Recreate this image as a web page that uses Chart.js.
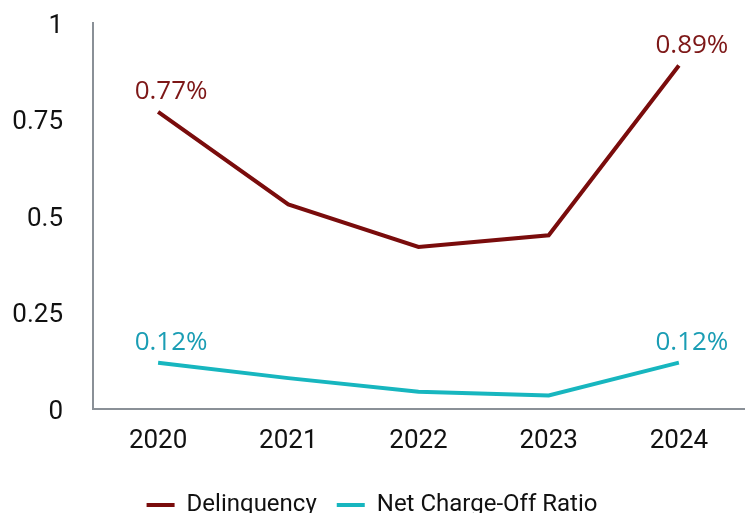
<!DOCTYPE html>
<html>
<head>
<meta charset="utf-8">
<script src="https://cdn.jsdelivr.net/npm/chart.js@4"></script>
<style>
  html, body { margin: 0; padding: 0; background: #fff; overflow: hidden; }
  #wrap { position: relative; width: 749px; height: 527px; }
</style>
</head>
<body>
<div id="wrap"><canvas id="chart"></canvas></div>
<script>
// yearly ratios (%)
const years = ["2020", "2021", "2022", "2023", "2024"];
const delinquency = [0.77, 0.53, 0.42, 0.45, 0.89];
const netChargeOff = [0.12, 0.08, 0.045, 0.035, 0.12];
const yTicks = [0, 0.25, 0.5, 0.75, 1];

const RED = "#7a0c0c";
const TEAL = "#17b6bf";
const AXIS = "#8a9097";
const FONT_SIZE = 26;

// value labels on first and last point of each line
const endLabels = {
  id: "endLabels",
  afterDatasetsDraw(chart) {
    const ctx = chart.ctx;
    ctx.save();
    ctx.font = FONT_SIZE + "px 'Open Sans'";
    ctx.textAlign = "center";
    ctx.textBaseline = "middle";
    chart.data.datasets.forEach((ds, i) => {
      const meta = chart.getDatasetMeta(i);
      [0, ds.data.length - 1].forEach((idx) => {
        const pt = meta.data[idx];
        ctx.fillStyle = ds.labelColor;
        ctx.fillText(ds.data[idx].toFixed(2) + "%", pt.x + 13, pt.y - 20);
      });
    });
    ctx.restore();
  }
};

new Chart(document.getElementById("chart"), {
  type: "line",
  data: {
    labels: years,
    datasets: [
      {
        label: "Delinquency",
        data: delinquency,
        borderColor: RED,
        backgroundColor: RED,
        labelColor: "#7d1717",
        borderWidth: 4,
        pointBorderWidth: 4,
        pointRadius: 0,
        tension: 0,
      },
      {
        label: "Net Charge-Off Ratio",
        data: netChargeOff,
        borderColor: TEAL,
        backgroundColor: TEAL,
        labelColor: "#1a9db4",
        borderWidth: 4,
        pointBorderWidth: 4,
        pointRadius: 0,
        tension: 0,
      },
    ],
  },
  options: {
    responsive: true,
    maintainAspectRatio: false,
    animation: false,
    layout: { padding: { top: 23, right: 5, left: 0, bottom: 0 } },
    plugins: {
      tooltip: { enabled: false },
      legend: {
        position: "bottom",
        labels: {
          usePointStyle: true,
          pointStyle: "line",
          pointStyleWidth: 28,
          color: "#111",
          padding: 20,
          font: { family: "Roboto", size: 24 },
        },
      },
    },
    scales: {
      x: {
        offset: true,
        grid: { display: false, drawTicks: false },
        border: { color: AXIS, width: 2 },
        ticks: { color: "#111", padding: 17, font: { family: "Roboto", size: FONT_SIZE } },
        afterFit: (s) => { s.height = 64; },
      },
      y: {
        min: 0,
        max: 1,
        afterBuildTicks: (s) => { s.ticks = yTicks.map((v) => ({ value: v })); },
        grid: { display: false, drawTicks: false },
        border: { color: AXIS, width: 2 },
        ticks: {
          color: "#111",
          padding: 30,
          labelOffset: 3,
          font: { family: "Roboto", size: FONT_SIZE },
          callback: (v) => String(v),
        },
        afterFit: (s) => {
          s.width = 93;
          s.paddingTop = 0;
          s.paddingBottom = 0;
        },
      },
    },
  },
  plugins: [endLabels],
});
</script>
</body>
</html>
